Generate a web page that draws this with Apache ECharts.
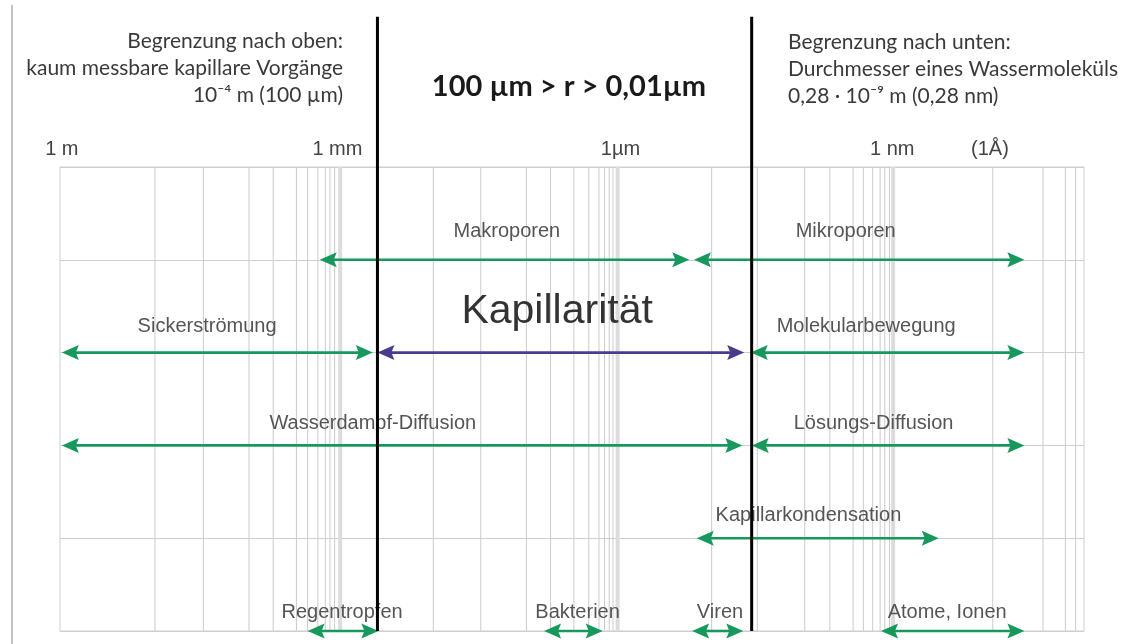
<!DOCTYPE html>
<html><head><meta charset="utf-8">
<script src="https://cdn.jsdelivr.net/npm/echarts@6/dist/echarts.min.js"></script>
<style>html,body{margin:0;padding:0;background:#fff}#c{width:1131px;height:644px}</style>
</head><body><div id="c"></div>
<script>
// x: decades below 1 m (position on the logarithmic size scale), y: row of the diagram
const tickValues = [0.02, 2.98, 6.02, 8.94, 9.99];
const tickLabels = ['1 m', '1 mm', '1µm', '1 nm', '(1Å)'];

const minorGrid = [1.02, 1.54, 2.03, 2.29, 2.54, 2.66, 2.77, 2.85, 2.90, 2.95,
                   4.01, 4.52, 5.01, 5.27, 5.52, 5.68, 5.79, 5.85, 5.90, 5.94,
                   7.00, 7.49, 8.00, 8.27, 8.52, 8.63, 8.73, 8.81, 8.86, 8.91,
                   10.02, 10.56, 10.80, 10.91];
const majorGrid = [3.01, 5.99, 8.95];
const limits = [3.41, 7.43];        // 100 µm and 0,01 µm boundary lines
const limitTop = 6.62;

const arrowNames = ['Makroporen', 'Mikroporen', 'Sickerströmung', 'Kapillarität', 'Molekularbewegung',
                    'Wasserdampf-Diffusion', 'Lösungs-Diffusion', 'Kapillarkondensation',
                    'Regentropfen', 'Bakterien', 'Viren', 'Atome, Ionen'];
const arrowFrom = [2.79, 6.81, 0.02, 3.41, 7.42, 0.02, 7.43, 6.84, 2.66, 5.20, 6.79, 8.82];
const arrowTo   = [6.76, 10.36, 3.36, 7.35, 10.36, 7.33, 10.36, 9.44, 3.42, 5.83, 7.34, 10.36];
const arrowRow  = [4, 4, 3, 3, 3, 2, 2, 1, 0, 0, 0, 0];
const arrowKind = [0, 0, 0, 1, 0, 0, 0, 0, 0, 0, 0, 0];   // 1 = Kapillarität
const labelX    = [4.80, 8.44, 1.58, 5.34, 8.66, 3.36, 8.74, 8.04, 3.03, 5.56, 7.09, 9.53];
const labelY    = [4.30, 4.30, 3.28, 3.44, 3.28, 2.24, 2.24, 1.25, 0.20, 0.20, 0.20, 0.20];

const upperText = ['Begrenzung nach oben:', 'kaum messbare kapillare Vorgänge', '10⁻⁴ m (100 µm)'];
const lowerText = ['Begrenzung nach unten:', 'Durchmesser eines Wassermoleküls', '0,28 · 10⁻⁹ m (0,28 nm)'];
const rangeText = '100 µm > r > 0,01µm';

const GREEN = '#17985c', PURPLE = '#4b3b8e';
const LABEL_FONT = '"Liberation Sans", Arial, sans-serif';
const HEAD_FONT = 'Lato, "Open Sans", sans-serif';

const chart = echarts.init(document.getElementById('c'), null, {renderer: 'canvas'});

function vline(color, width) {
  return function (params, api) {
    const t = api.coord([api.value(0), api.value(1)]);
    const b = api.coord([api.value(0), api.value(2)]);
    return {type: 'line', shape: {x1: t[0], y1: t[1], x2: b[0], y2: b[1]},
            style: {stroke: color, lineWidth: width}};
  };
}

function head(tip, dir, color) {
  const L = 17, W = 7.5;
  return {type: 'polygon', shape: {points: [
    [tip[0], tip[1]], [tip[0] + dir * L, tip[1] - W],
    [tip[0] + dir * L * 0.82, tip[1]], [tip[0] + dir * L, tip[1] + W]]},
    style: {fill: color}};
}

function renderArrow(params, api) {
  const a = api.coord([api.value(0), api.value(2)]);
  const b = api.coord([api.value(1), api.value(2)]);
  const color = api.value(3) === 1 ? PURPLE : GREEN;
  return {type: 'group', children: [
    {type: 'line', shape: {x1: a[0] + 10, y1: a[1], x2: b[0] - 10, y2: b[1]},
     style: {stroke: color, lineWidth: 2.6}},
    head(a, 1, color), head(b, -1, color)
  ]};
}

function renderLabel(params, api) {
  const p = api.coord([api.value(0), api.value(1)]);
  const i = params.dataIndex;
  const big = arrowKind[i] === 1;
  return {type: 'text', x: p[0], y: p[1], style: {
    text: arrowNames[i], align: 'center', verticalAlign: 'middle',
    fill: big ? '#333' : '#555',
    font: (big ? '41px ' : '20px ') + LABEL_FONT}};
}

chart.setOption({
  animation: false,
  grid: {left: 60, right: 47, top: 167, bottom: 13, show: true, borderColor: '#cfcfcf', borderWidth: 1},
  xAxis: {
    type: 'value', position: 'top', min: 0, max: 11,
    axisLine: {show: false}, axisTick: {show: false}, splitLine: {show: false},
    axisLabel: {
      customValues: tickValues, margin: 8,
      color: '#444', fontSize: 20, fontFamily: LABEL_FONT,
      formatter: function (v) {
        let best = 0;
        tickValues.forEach(function (t, i) { if (Math.abs(t - v) < Math.abs(tickValues[best] - v)) best = i; });
        return tickLabels[best];
      }
    }
  },
  yAxis: {
    type: 'value', min: 0, max: 5, interval: 1,
    axisLine: {show: false}, axisTick: {show: false}, axisLabel: {show: false},
    splitLine: {show: true, lineStyle: {color: '#cfcfcf', width: 1}}
  },
  graphic: [
    {type: 'line', shape: {x1: 12, y1: 5, x2: 12, y2: 644}, style: {stroke: '#c2c2c2', lineWidth: 2}},
    {type: 'text', x: 343, y: 28, style: {text: upperText.join('\n'), align: 'right', verticalAlign: 'top',
      lineHeight: 27, fill: '#3a3a3a', font: '21px ' + HEAD_FONT}},
    {type: 'text', x: 788, y: 29, style: {text: lowerText.join('\n'), align: 'left', verticalAlign: 'top',
      lineHeight: 27, fill: '#3a3a3a', font: '21px ' + HEAD_FONT}},
    {type: 'text', x: 569, y: 87, style: {text: rangeText, align: 'center', verticalAlign: 'middle',
      fill: '#1a1a1a', font: 'bold 29px ' + HEAD_FONT}}
  ],
  series: [
    {type: 'custom', silent: true, z: 1, renderItem: vline('#cbcbcb', 1),
     encode: {x: 0, y: [1, 2]}, data: minorGrid.map(function (v) { return [v, 5, 0]; })},
    {type: 'custom', silent: true, z: 1, renderItem: vline('#dcdcdc', 4),
     encode: {x: 0, y: [1, 2]}, data: majorGrid.map(function (v) { return [v, 5, 0]; })},
    {type: 'custom', silent: true, z: 2, renderItem: renderLabel,
     encode: {x: 0, y: 1}, data: labelX.map(function (v, i) { return [v, labelY[i]]; })},
    {type: 'custom', silent: true, z: 3, renderItem: renderArrow,
     encode: {x: [0, 1], y: 2}, data: arrowFrom.map(function (v, i) { return [v, arrowTo[i], arrowRow[i], arrowKind[i]]; })},
    {type: 'custom', silent: true, z: 4, clip: false, renderItem: vline('#000', 3),
     encode: {x: 0, y: [1, 2]}, data: limits.map(function (v) { return [v, limitTop, 0]; })}
  ]
});
</script></body></html>
